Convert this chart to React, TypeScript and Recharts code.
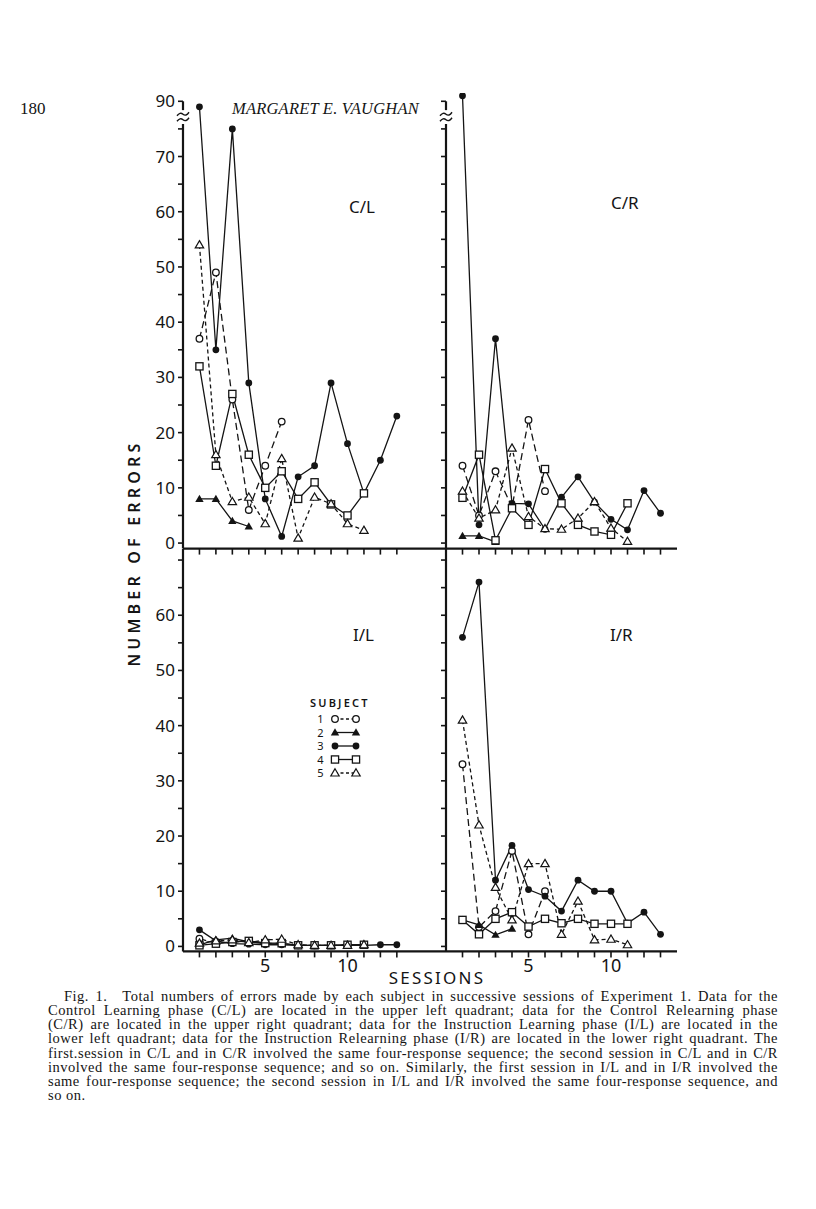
import React from 'react';
import { LineChart, Line, XAxis, YAxis, ReferenceLine, ReferenceDot, Legend } from 'recharts';

const sessions = [1, 2, 3, 4, 5, 6, 7, 8, 9, 10, 11, 12, 13];
const subjects = ['1', '2', '3', '4', '5'];

// Control Learning (C/L), one array per subject
const clS1 = [37, 49, 26, 6, 14, 22];
const clS2 = [8, 8, 4, 3];
const clS3 = [89, 35, 75, 29, 8, 1.2, 12, 14, 29, 18, 9, 15, 23];
const clS4 = [32, 14, 27, 16, 10, 13, 8, 11, 7, 5, 9];
const clS5 = [54, 16, 7.5, 8.3, 3.5, 15.3, 0.9, 8.3, 7.1, 3.5, 2.3];

// Control Relearning (C/R)
const crS1 = [14, 5, 13, 6.5, 22.3, 9.4];
const crS2 = [1.3, 1.3, 0.2];
const crS3 = [91, 3.3, 37, 7.2, 7.1, 2.5, 8.3, 12, 7.4, 4.3, 2.4, 9.5, 5.4];
const crS4 = [8.2, 16, 0.5, 6.3, 3.3, 13.4, 7.2, 3.3, 2.1, 1.5, 7.2];
const crS5 = [9.4, 4.5, 6, 17.2, 4.8, 2.6, 2.5, 4.5, 7.5, 2.7, 0.3];

// Instruction Learning (I/L)
const ilS1 = [1.4, 0.6, 0.8, 1, 0.6, 0.5, 0.2, 0.2, 0.2, 0.3, 0.3];
const ilS2 = [0.3, 1.2, 1.5, 0.8, 0.5, 0.4];
const ilS3 = [3, 1, 0.5, 0.4, 0.3, 0.3, 0.2, 0.2, 0.2, 0.2, 0.2, 0.3, 0.3];
const ilS4 = [0.2, 0.5, 0.8, 1, 0.6, 0.6, 0.2, 0.2, 0.2, 0.3, 0.3];
const ilS5 = [0.6, 1, 1.2, 0.7, 1.2, 1.3, 0.3, 0.2, 0.2, 0.2, 0.3];

// Instruction Relearning (I/R)
const irS1 = [33, 3.5, 6.4, 17.3, 2.2, 10];
const irS2 = [4.8, 3.9, 2.1, 3.2];
const irS3 = [56, 66, 12, 18.3, 10.3, 9.1, 6.4, 12, 10, 10, 4.2, 6.2, 2.2];
const irS4 = [4.8, 2.2, 5, 6.2, 3.6, 5, 4.2, 5, 4.1, 4.1, 4.1];
const irS5 = [41, 22, 10.7, 4.8, 15, 15, 2.2, 8.2, 1.2, 1.3, 0.3];

const upperYTicks = [0, 5, 10, 15, 20, 25, 30, 35, 40, 45, 50, 55, 60, 65, 70, 75, 90];
const lowerYTicks = [0, 5, 10, 15, 20, 25, 30, 35, 40, 45, 50, 55, 60, 65, 70];
const xLabels = [5, 10];

const captionLines = [
  'Fig. 1.\u2003Total numbers of errors made by each subject in successive sessions of Experiment 1. Data for the',
  'Control Learning phase (C/L) are located in the upper left quadrant; data for the Control Relearning phase',
  '(C/R) are located in the upper right quadrant; data for the Instruction Learning phase (I/L) are located in the',
  'lower left quadrant; data for the Instruction Relearning phase (I/R) are located in the lower right quadrant. The',
  'first.session in C/L and in C/R involved the same four-response sequence; the second session in C/L and in C/R',
  'involved the same four-response sequence; and so on. Similarly, the first session in I/L and in I/R involved the',
  'same four-response sequence; the second session in I/L and I/R involved the same four-response sequence, and',
  'so on.',
];

const INK = '#141414';
const SANS = '"Noto Sans", "DejaVu Sans", sans-serif';
const SERIF = '"Liberation Serif", "DejaVu Serif", serif';

// axis break on the upper panels: everything above 80 is pulled down by 10
const brk = (v: number) => (v > 80 ? v - 10 : v);
const noBrk = (v: number) => v;

function buildRows(series: number[][], t: (v: number) => number) {
  return sessions.map((s, i) => {
    const row: Record<string, number> = { session: s };
    series.forEach((arr, k) => {
      if (i < arr.length) row['s' + (k + 1)] = t(arr[i]);
    });
    return row;
  });
}

const clRows = buildRows([clS1, clS2, clS3, clS4, clS5], brk);
const crRows = buildRows([crS1, crS2, crS3, crS4, crS5], brk);
const ilRows = buildRows([ilS1, ilS2, ilS3, ilS4, ilS5], noBrk);
const irRows = buildRows([irS1, irS2, irS3, irS4, irS5], noBrk);

type Kind = 'circleOpen' | 'triFilled' | 'circleFilled' | 'square' | 'triOpen';
const kinds: Kind[] = ['circleOpen', 'triFilled', 'circleFilled', 'square', 'triOpen'];
const dashes = ['7 4', undefined, undefined, undefined, '4 3'];

function Marker({ cx, cy, kind }: { cx: number; cy: number; kind: Kind }) {
  if (cx == null || cy == null || isNaN(cy)) return <g />;
  if (kind === 'circleOpen') return <circle cx={cx} cy={cy} r={3.3} fill="#fff" stroke={INK} strokeWidth={1.3} />;
  if (kind === 'circleFilled') return <circle cx={cx} cy={cy} r={3.4} fill={INK} />;
  if (kind === 'square') return <rect x={cx - 3.6} y={cy - 3.6} width={7.2} height={7.2} fill="#fff" stroke={INK} strokeWidth={1.3} />;
  const pts = `${cx},${cy - 4.2} ${cx + 4.2},${cy + 3} ${cx - 4.2},${cy + 3}`;
  if (kind === 'triFilled') return <polygon points={pts} fill={INK} />;
  return <polygon points={pts} fill="#fff" stroke={INK} strokeWidth={1.2} />;
}

const dotFor = (kind: Kind) => (p: any) => <Marker key={`${kind}-${p.index}`} cx={p.cx} cy={p.cy} kind={kind} />;

function BreakMark(p: any) {
  const { cx, cy } = p;
  return (
    <g stroke={INK} strokeWidth={1.4} fill="none">
      <path d={`M${cx - 6},${cy - 1} q3,-4 6,-1.5 t6,-2`} />
      <path d={`M${cx - 6},${cy + 4.5} q3,-4 6,-1.5 t6,-2`} />
    </g>
  );
}

function SubjectKey() {
  const rowsY = [27, 40.5, 54, 67.5, 81];
  return (
    <svg width={80} height={90}>
      <text x={2} y={15} fontFamily={SANS} fontSize={11} fontWeight={600} letterSpacing={2.2} fill={INK}>SUBJECT</text>
      {subjects.map((s, i) => (
        <g key={s}>
          <text x={12.5} y={rowsY[i] + 4} textAnchor="middle" fontFamily={SANS} fontSize={11} fill={INK}>{s}</text>
          <line x1={27} x2={48} y1={rowsY[i]} y2={rowsY[i]} stroke={INK} strokeWidth={1.3} strokeDasharray={dashes[i] ? '3 2.5' : undefined} />
          <Marker cx={27} cy={rowsY[i]} kind={kinds[i]} />
          <Marker cx={48} cy={rowsY[i]} kind={kinds[i]} />
        </g>
      ))}
    </svg>
  );
}

interface PanelProps {
  left: number;
  top: number;
  yw: number;
  plotW: number;
  plotH: number;
  mt: number;
  xh: number;
  xMax: number;
  yDomain: [number, number];
  upper: boolean;
  labels: boolean;
  rows: Record<string, number>[];
  legend?: boolean;
}

function Panel({ left, top, yw, plotW, plotH, mt, xh, xMax, yDomain, upper, labels, rows, legend }: PanelProps) {
  const yTicks = upper ? upperYTicks.map(brk) : lowerYTicks;
  const yFmt = (v: number) => {
    if (!labels) return '';
    if (upper && v === 80) return '90';
    if (v % 10 === 0 && v <= (upper ? 70 : 60)) return String(v);
    return '';
  };
  const xFmt = (v: number) => (!upper && xLabels.includes(v) ? String(v) : '');
  return (
    <div style={{ position: 'absolute', left, top }}>
      <LineChart width={yw + plotW} height={mt + plotH + xh} data={rows} margin={{ top: mt, right: 0, left: 0, bottom: 0 }}>
        <XAxis
          type="number"
          dataKey="session"
          domain={[0, xMax]}
          ticks={sessions}
          interval={0}
          allowDataOverflow
          height={xh}
          tickSize={6}
          tickMargin={2}
          tickFormatter={xFmt}
          tick={{ fill: INK, fontSize: 18, fontFamily: SANS }}
          tickLine={{ stroke: INK, strokeWidth: 1.6 }}
          axisLine={{ stroke: INK, strokeWidth: 2.2 }}
        />
        <YAxis
          type="number"
          domain={yDomain}
          ticks={yTicks}
          interval={0}
          allowDataOverflow
          width={yw}
          tickSize={5}
          tickMargin={3}
          tickFormatter={yFmt}
          tick={{ fill: INK, fontSize: 17, fontFamily: SANS }}
          tickLine={{ stroke: INK, strokeWidth: 1.6 }}
          axisLine={upper ? false : { stroke: INK, strokeWidth: 2.2 }}
        />
        {upper && <ReferenceLine segment={[{ x: 0, y: yDomain[0] }, { x: 0, y: 75.9 }]} stroke={INK} strokeWidth={2.2} />}
        {upper && <ReferenceLine segment={[{ x: 0, y: 78.4 }, { x: 0, y: 80 }]} stroke={INK} strokeWidth={2.2} />}
        {upper && <ReferenceDot x={0} y={77.2} r={0} shape={BreakMark} />}
        {kinds.map((k, i) => (
          <Line
            key={k}
            type="linear"
            dataKey={'s' + (i + 1)}
            stroke={INK}
            strokeWidth={1.3}
            strokeDasharray={dashes[i]}
            dot={dotFor(k)}
            activeDot={false}
            connectNulls={false}
            isAnimationActive={false}
          />
        ))}
        {legend && (
          <Legend
            layout="vertical"
            align="center"
            verticalAlign="middle"
            wrapperStyle={{ left: 175, top: 148, width: 80, height: 90 }}
            content={() => <SubjectKey />}
          />
        )}
      </LineChart>
    </div>
  );
}

const label = (text: string, left: number, top: number) => (
  <div style={{ position: 'absolute', left, top, fontFamily: SANS, fontSize: 17, lineHeight: '17px', color: INK }}>{text}</div>
);

export default function App() {
  const upperTop = 83.4;
  const lowerTop = 544.1;
  return (
    <div style={{ position: 'absolute', left: 0, top: 0, width: 816, height: 1209, background: '#fff' }}>
      <div style={{ position: 'absolute', left: 20, top: 99, fontFamily: SERIF, fontSize: 17, color: INK }}>180</div>
      <div style={{ position: 'absolute', left: 232, top: 99, fontFamily: SERIF, fontSize: 16.5, fontStyle: 'italic', letterSpacing: 0.2, color: INK }}>
        MARGARET E. VAUGHAN
      </div>

      <Panel left={133} top={upperTop} yw={50} plotW={263.2} plotH={455.6} mt={10} xh={10} xMax={16} yDomain={[-1, 81.5]} upper labels rows={clRows} />
      <Panel left={434} top={upperTop} yw={12} plotW={231} plotH={455.6} mt={10} xh={10} xMax={14} yDomain={[-1, 81.5]} upper labels={false} rows={crRows} />
      <Panel left={133} top={lowerTop} yw={50} plotW={263.2} plotH={402.4} mt={5} xh={30} xMax={16} yDomain={[-0.9, 72]} upper={false} labels rows={ilRows} legend />
      <Panel left={434} top={lowerTop} yw={12} plotW={231} plotH={402.4} mt={5} xh={30} xMax={14} yDomain={[-0.9, 72]} upper={false} labels={false} rows={irRows} />

      {label('C/L', 349, 198)}
      {label('C/R', 611, 194)}
      {label('I/L', 353, 626)}
      {label('I/R', 610, 626)}

      <div
        style={{
          position: 'absolute',
          left: 134,
          top: 553,
          transform: 'translate(-50%, -50%) rotate(-90deg)',
          fontFamily: SANS,
          fontSize: 16,
          fontWeight: 600,
          letterSpacing: 4.2,
          whiteSpace: 'nowrap',
          color: INK,
        }}
      >
        NUMBER OF ERRORS
      </div>
      <div style={{ position: 'absolute', left: 437, top: 969, transform: 'translateX(-50%)', fontFamily: SANS, fontSize: 17, letterSpacing: 2.2, lineHeight: '17px', color: INK }}>
        SESSIONS
      </div>

      {captionLines.map((t, i) => {
        const last = i === captionLines.length - 1;
        const l = i === 0 ? 64 : 48;
        return (
          <div
            key={i}
            style={{
              position: 'absolute',
              left: l,
              top: 988.5 + i * 14.25,
              width: last ? 200 : 778 - l,
              fontFamily: SERIF,
              fontSize: 14.5,
              lineHeight: '14.25px',
              letterSpacing: 0.5,
              color: INK,
              whiteSpace: 'nowrap',
              textAlign: last ? 'left' : 'justify',
              textAlignLast: last ? 'left' : 'justify',
            }}
          >
            {t}
          </div>
        );
      })}
    </div>
  );
}
